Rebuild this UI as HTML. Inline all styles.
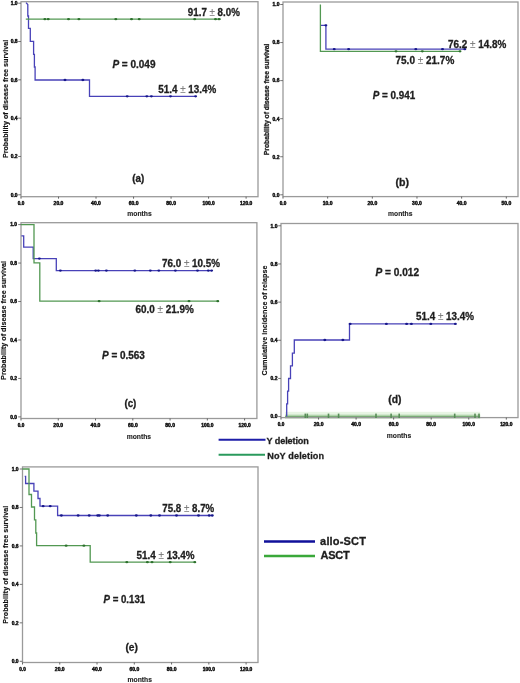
<!DOCTYPE html>
<html><head><meta charset="utf-8"><title>Survival curves</title>
<style>
html,body{margin:0;padding:0;background:#fff;}
body{width:520px;height:683px;overflow:hidden;font-family:"Liberation Sans", sans-serif;}
svg{display:block;will-change:transform;filter:blur(0.3px);}
</style></head><body>
<svg width="520" height="683" viewBox="0 0 520 683">
<rect width="520" height="683" fill="#fff"/>
<g font-family='"Liberation Sans", sans-serif'>
<rect x="21.00" y="1.70" width="237.00" height="195.00" fill="none" stroke="#9a9a9a" stroke-width="1.3"/>
<line x1="18.20" y1="194.80" x2="21.00" y2="194.80" stroke="#666" stroke-width="0.9"/>
<text x="17.60" y="196.65" font-size="5.2" font-weight="bold" text-anchor="end" textLength="6.9" lengthAdjust="spacingAndGlyphs" fill="#1e1e1e" stroke="#111" stroke-width="0.45" style="">0.0</text>
<line x1="18.20" y1="156.48" x2="21.00" y2="156.48" stroke="#666" stroke-width="0.9"/>
<text x="17.60" y="158.33" font-size="5.2" font-weight="bold" text-anchor="end" textLength="6.9" lengthAdjust="spacingAndGlyphs" fill="#1e1e1e" stroke="#111" stroke-width="0.45" style="">0.2</text>
<line x1="18.20" y1="118.16" x2="21.00" y2="118.16" stroke="#666" stroke-width="0.9"/>
<text x="17.60" y="120.01" font-size="5.2" font-weight="bold" text-anchor="end" textLength="6.9" lengthAdjust="spacingAndGlyphs" fill="#1e1e1e" stroke="#111" stroke-width="0.45" style="">0.4</text>
<line x1="18.20" y1="79.84" x2="21.00" y2="79.84" stroke="#666" stroke-width="0.9"/>
<text x="17.60" y="81.69" font-size="5.2" font-weight="bold" text-anchor="end" textLength="6.9" lengthAdjust="spacingAndGlyphs" fill="#1e1e1e" stroke="#111" stroke-width="0.45" style="">0.6</text>
<line x1="18.20" y1="41.52" x2="21.00" y2="41.52" stroke="#666" stroke-width="0.9"/>
<text x="17.60" y="43.37" font-size="5.2" font-weight="bold" text-anchor="end" textLength="6.9" lengthAdjust="spacingAndGlyphs" fill="#1e1e1e" stroke="#111" stroke-width="0.45" style="">0.8</text>
<line x1="18.20" y1="3.20" x2="21.00" y2="3.20" stroke="#666" stroke-width="0.9"/>
<text x="17.60" y="5.05" font-size="5.2" font-weight="bold" text-anchor="end" textLength="6.9" lengthAdjust="spacingAndGlyphs" fill="#1e1e1e" stroke="#111" stroke-width="0.45" style="">1.0</text>
<line x1="21.00" y1="196.70" x2="21.00" y2="198.70" stroke="#555" stroke-width="0.9"/>
<text x="21.00" y="205.00" font-size="5" font-weight="bold" text-anchor="middle" textLength="6.5" lengthAdjust="spacingAndGlyphs" fill="#1e1e1e" stroke="#111" stroke-width="0.45" style="">0.0</text>
<line x1="58.52" y1="196.70" x2="58.52" y2="198.70" stroke="#555" stroke-width="0.9"/>
<text x="58.52" y="205.00" font-size="5" font-weight="bold" text-anchor="middle" textLength="9.8" lengthAdjust="spacingAndGlyphs" fill="#1e1e1e" stroke="#111" stroke-width="0.45" style="">20.0</text>
<line x1="96.03" y1="196.70" x2="96.03" y2="198.70" stroke="#555" stroke-width="0.9"/>
<text x="96.03" y="205.00" font-size="5" font-weight="bold" text-anchor="middle" textLength="9.8" lengthAdjust="spacingAndGlyphs" fill="#1e1e1e" stroke="#111" stroke-width="0.45" style="">40.0</text>
<line x1="133.55" y1="196.70" x2="133.55" y2="198.70" stroke="#555" stroke-width="0.9"/>
<text x="133.55" y="205.00" font-size="5" font-weight="bold" text-anchor="middle" textLength="9.8" lengthAdjust="spacingAndGlyphs" fill="#1e1e1e" stroke="#111" stroke-width="0.45" style="">60.0</text>
<line x1="171.07" y1="196.70" x2="171.07" y2="198.70" stroke="#555" stroke-width="0.9"/>
<text x="171.07" y="205.00" font-size="5" font-weight="bold" text-anchor="middle" textLength="9.8" lengthAdjust="spacingAndGlyphs" fill="#1e1e1e" stroke="#111" stroke-width="0.45" style="">80.0</text>
<line x1="208.58" y1="196.70" x2="208.58" y2="198.70" stroke="#555" stroke-width="0.9"/>
<text x="208.58" y="205.00" font-size="5" font-weight="bold" text-anchor="middle" textLength="12.3" lengthAdjust="spacingAndGlyphs" fill="#1e1e1e" stroke="#111" stroke-width="0.45" style="">100.0</text>
<line x1="246.10" y1="196.70" x2="246.10" y2="198.70" stroke="#555" stroke-width="0.9"/>
<text x="246.10" y="205.00" font-size="5" font-weight="bold" text-anchor="middle" textLength="12.3" lengthAdjust="spacingAndGlyphs" fill="#1e1e1e" stroke="#111" stroke-width="0.45" style="">120.0</text>
<path d="M26.00,2.60 L27.80,4.60 L27.80,4.60 L27.80,16.00 L28.50,16.00 L28.50,28.30 L30.30,28.30 L30.30,41.40 L33.60,41.40 L33.60,54.30 L34.40,54.30 L34.40,67.00 L35.10,67.00 L35.10,80.00 L89.50,80.00 L89.50,96.30 L195.60,96.30" fill="none" stroke="#4842b8" stroke-width="1.3" stroke-linejoin="miter"/>
<ellipse cx="65.00" cy="80.00" rx="1.5" ry="1.15" fill="#16168a"/>
<ellipse cx="82.90" cy="80.00" rx="1.5" ry="1.15" fill="#16168a"/>
<ellipse cx="127.20" cy="96.30" rx="1.5" ry="1.15" fill="#16168a"/>
<ellipse cx="146.80" cy="96.30" rx="1.5" ry="1.15" fill="#16168a"/>
<ellipse cx="151.40" cy="96.30" rx="1.5" ry="1.15" fill="#16168a"/>
<ellipse cx="170.50" cy="96.30" rx="1.5" ry="1.15" fill="#16168a"/>
<ellipse cx="195.60" cy="96.30" rx="1.5" ry="1.15" fill="#16168a"/>
<path d="M25.80,19.20 L220.80,19.20" fill="none" stroke="#529852" stroke-width="1.3" stroke-linejoin="miter"/>
<ellipse cx="44.90" cy="19.20" rx="1.5" ry="1.15" fill="#2c702c"/>
<ellipse cx="48.20" cy="19.20" rx="1.5" ry="1.15" fill="#2c702c"/>
<ellipse cx="68.50" cy="19.20" rx="1.5" ry="1.15" fill="#2c702c"/>
<ellipse cx="78.90" cy="19.20" rx="1.5" ry="1.15" fill="#2c702c"/>
<ellipse cx="115.80" cy="19.20" rx="1.5" ry="1.15" fill="#2c702c"/>
<ellipse cx="131.50" cy="19.20" rx="1.5" ry="1.15" fill="#2c702c"/>
<ellipse cx="139.20" cy="19.20" rx="1.5" ry="1.15" fill="#2c702c"/>
<ellipse cx="194.70" cy="19.20" rx="1.5" ry="1.15" fill="#2c702c"/>
<ellipse cx="215.50" cy="19.20" rx="1.5" ry="1.15" fill="#2c702c"/>
<ellipse cx="219.00" cy="19.20" rx="1.5" ry="1.15" fill="#2c702c"/>
<text x="187.80" y="16.20" font-size="10" font-weight="bold" text-anchor="start" textLength="52.1" lengthAdjust="spacingAndGlyphs" fill="#1e1e1e"  stroke="#1e1e1e" stroke-width="0.3" style="">91.7 <tspan font-weight="normal" fill="#7a7a7a" stroke="#8a8a8a" stroke-width="0.15">±</tspan> 8.0%</text>
<text x="158.30" y="92.80" font-size="10" font-weight="bold" text-anchor="start" textLength="57.9" lengthAdjust="spacingAndGlyphs" fill="#1e1e1e"  stroke="#1e1e1e" stroke-width="0.3" style="">51.4 <tspan font-weight="normal" fill="#7a7a7a" stroke="#8a8a8a" stroke-width="0.15">±</tspan> 13.4%</text>
<text x="112.40" y="68.30" font-size="10" font-weight="bold" text-anchor="start" textLength="43.1" lengthAdjust="spacingAndGlyphs" fill="#1e1e1e"  stroke="#1e1e1e" stroke-width="0.3" style=""><tspan font-style="italic">P</tspan> = 0.049</text>
<text x="132.30" y="182.00" font-size="10" font-weight="bold" text-anchor="start" textLength="12.0" lengthAdjust="spacingAndGlyphs" fill="#1e1e1e"  stroke="#1e1e1e" stroke-width="0.3" style="">(a)</text>
<text x="127.30" y="216.40" font-size="6.8" font-weight="bold" text-anchor="start" textLength="24.4" lengthAdjust="spacingAndGlyphs" fill="#1e1e1e" stroke="#222" stroke-width="0.12" style="">months</text>
<text x="0.00" y="0.00" font-size="7.2" font-weight="bold" text-anchor="start" textLength="118.3" lengthAdjust="spacingAndGlyphs" fill="#111" transform="translate(7.7,158.1) rotate(-90)" stroke="#111" stroke-width="0.15" style="">Probability of disease free survival</text>
<rect x="283.00" y="2.00" width="235.00" height="194.60" fill="none" stroke="#9a9a9a" stroke-width="1.3"/>
<line x1="280.20" y1="194.80" x2="283.00" y2="194.80" stroke="#666" stroke-width="0.9"/>
<text x="279.40" y="196.65" font-size="5.2" font-weight="bold" text-anchor="end" textLength="6.9" lengthAdjust="spacingAndGlyphs" fill="#1e1e1e" stroke="#111" stroke-width="0.45" style="">0.0</text>
<line x1="280.20" y1="156.74" x2="283.00" y2="156.74" stroke="#666" stroke-width="0.9"/>
<text x="279.40" y="158.59" font-size="5.2" font-weight="bold" text-anchor="end" textLength="6.9" lengthAdjust="spacingAndGlyphs" fill="#1e1e1e" stroke="#111" stroke-width="0.45" style="">0.2</text>
<line x1="280.20" y1="118.68" x2="283.00" y2="118.68" stroke="#666" stroke-width="0.9"/>
<text x="279.40" y="120.53" font-size="5.2" font-weight="bold" text-anchor="end" textLength="6.9" lengthAdjust="spacingAndGlyphs" fill="#1e1e1e" stroke="#111" stroke-width="0.45" style="">0.4</text>
<line x1="280.20" y1="80.62" x2="283.00" y2="80.62" stroke="#666" stroke-width="0.9"/>
<text x="279.40" y="82.47" font-size="5.2" font-weight="bold" text-anchor="end" textLength="6.9" lengthAdjust="spacingAndGlyphs" fill="#1e1e1e" stroke="#111" stroke-width="0.45" style="">0.6</text>
<line x1="280.20" y1="42.56" x2="283.00" y2="42.56" stroke="#666" stroke-width="0.9"/>
<text x="279.40" y="44.41" font-size="5.2" font-weight="bold" text-anchor="end" textLength="6.9" lengthAdjust="spacingAndGlyphs" fill="#1e1e1e" stroke="#111" stroke-width="0.45" style="">0.8</text>
<line x1="280.20" y1="4.50" x2="283.00" y2="4.50" stroke="#666" stroke-width="0.9"/>
<text x="279.40" y="6.35" font-size="5.2" font-weight="bold" text-anchor="end" textLength="6.9" lengthAdjust="spacingAndGlyphs" fill="#1e1e1e" stroke="#111" stroke-width="0.45" style="">1.0</text>
<line x1="283.00" y1="196.60" x2="283.00" y2="198.60" stroke="#555" stroke-width="0.9"/>
<text x="283.00" y="204.90" font-size="5" font-weight="bold" text-anchor="middle" textLength="6.5" lengthAdjust="spacingAndGlyphs" fill="#1e1e1e" stroke="#111" stroke-width="0.45" style="">0.0</text>
<line x1="327.66" y1="196.60" x2="327.66" y2="198.60" stroke="#555" stroke-width="0.9"/>
<text x="327.66" y="204.90" font-size="5" font-weight="bold" text-anchor="middle" textLength="9.8" lengthAdjust="spacingAndGlyphs" fill="#1e1e1e" stroke="#111" stroke-width="0.45" style="">10.0</text>
<line x1="372.32" y1="196.60" x2="372.32" y2="198.60" stroke="#555" stroke-width="0.9"/>
<text x="372.32" y="204.90" font-size="5" font-weight="bold" text-anchor="middle" textLength="9.8" lengthAdjust="spacingAndGlyphs" fill="#1e1e1e" stroke="#111" stroke-width="0.45" style="">20.0</text>
<line x1="416.98" y1="196.60" x2="416.98" y2="198.60" stroke="#555" stroke-width="0.9"/>
<text x="416.98" y="204.90" font-size="5" font-weight="bold" text-anchor="middle" textLength="9.8" lengthAdjust="spacingAndGlyphs" fill="#1e1e1e" stroke="#111" stroke-width="0.45" style="">30.0</text>
<line x1="461.64" y1="196.60" x2="461.64" y2="198.60" stroke="#555" stroke-width="0.9"/>
<text x="461.64" y="204.90" font-size="5" font-weight="bold" text-anchor="middle" textLength="9.8" lengthAdjust="spacingAndGlyphs" fill="#1e1e1e" stroke="#111" stroke-width="0.45" style="">40.0</text>
<line x1="506.30" y1="196.60" x2="506.30" y2="198.60" stroke="#555" stroke-width="0.9"/>
<text x="506.30" y="204.90" font-size="5" font-weight="bold" text-anchor="middle" textLength="9.8" lengthAdjust="spacingAndGlyphs" fill="#1e1e1e" stroke="#111" stroke-width="0.45" style="">50.0</text>
<path d="M320.40,25.30 L325.90,25.30 L325.90,49.20 L465.00,49.20" fill="none" stroke="#4842b8" stroke-width="1.3" stroke-linejoin="miter"/>
<ellipse cx="325.90" cy="25.30" rx="1.5" ry="1.15" fill="#16168a"/>
<ellipse cx="334.20" cy="49.20" rx="1.5" ry="1.15" fill="#16168a"/>
<ellipse cx="348.60" cy="49.20" rx="1.5" ry="1.15" fill="#16168a"/>
<ellipse cx="415.80" cy="49.20" rx="1.5" ry="1.15" fill="#16168a"/>
<ellipse cx="442.50" cy="49.20" rx="1.5" ry="1.15" fill="#16168a"/>
<ellipse cx="464.80" cy="49.20" rx="1.5" ry="1.15" fill="#16168a"/>
<path d="M320.40,4.50 L320.40,51.30 L460.80,51.30" fill="none" stroke="#529852" stroke-width="1.3" stroke-linejoin="miter"/>
<ellipse cx="396.00" cy="51.30" rx="1.5" ry="1.15" fill="#2c702c"/>
<ellipse cx="422.30" cy="51.30" rx="1.5" ry="1.15" fill="#2c702c"/>
<ellipse cx="460.00" cy="51.30" rx="1.5" ry="1.15" fill="#2c702c"/>
<text x="448.00" y="48.00" font-size="10" font-weight="bold" text-anchor="start" textLength="58.3" lengthAdjust="spacingAndGlyphs" fill="#1e1e1e"  stroke="#1e1e1e" stroke-width="0.3" style="">76.2 <tspan font-weight="normal" fill="#7a7a7a" stroke="#8a8a8a" stroke-width="0.15">±</tspan> 14.8%</text>
<text x="395.50" y="63.80" font-size="10" font-weight="bold" text-anchor="start" textLength="58.8" lengthAdjust="spacingAndGlyphs" fill="#1e1e1e"  stroke="#1e1e1e" stroke-width="0.3" style="">75.0 <tspan font-weight="normal" fill="#7a7a7a" stroke="#8a8a8a" stroke-width="0.15">±</tspan> 21.7%</text>
<text x="372.80" y="98.80" font-size="10" font-weight="bold" text-anchor="start" textLength="42.4" lengthAdjust="spacingAndGlyphs" fill="#1e1e1e"  stroke="#1e1e1e" stroke-width="0.3" style=""><tspan font-style="italic">P</tspan> = 0.941</text>
<text x="395.50" y="185.60" font-size="10" font-weight="bold" text-anchor="start" textLength="13.5" lengthAdjust="spacingAndGlyphs" fill="#1e1e1e"  stroke="#1e1e1e" stroke-width="0.3" style="">(b)</text>
<text x="388.00" y="216.20" font-size="6.8" font-weight="bold" text-anchor="start" textLength="24.4" lengthAdjust="spacingAndGlyphs" fill="#1e1e1e" stroke="#222" stroke-width="0.12" style="">months</text>
<text x="0.00" y="0.00" font-size="6.8" font-weight="bold" text-anchor="start" textLength="111.5" lengthAdjust="spacingAndGlyphs" fill="#1e1e1e" transform="translate(269.3,155.2) rotate(-90)" stroke="#1e1e1e" stroke-width="0.3" style="">Probability of disease free survival</text>
<rect x="21.00" y="222.70" width="235.90" height="195.80" fill="none" stroke="#9a9a9a" stroke-width="1.3"/>
<line x1="18.20" y1="416.90" x2="21.00" y2="416.90" stroke="#666" stroke-width="0.9"/>
<text x="17.10" y="418.75" font-size="5.2" font-weight="bold" text-anchor="end" textLength="6.9" lengthAdjust="spacingAndGlyphs" fill="#1e1e1e" stroke="#111" stroke-width="0.45" style="">0.0</text>
<line x1="18.20" y1="378.44" x2="21.00" y2="378.44" stroke="#666" stroke-width="0.9"/>
<text x="17.10" y="380.29" font-size="5.2" font-weight="bold" text-anchor="end" textLength="6.9" lengthAdjust="spacingAndGlyphs" fill="#1e1e1e" stroke="#111" stroke-width="0.45" style="">0.2</text>
<line x1="18.20" y1="339.98" x2="21.00" y2="339.98" stroke="#666" stroke-width="0.9"/>
<text x="17.10" y="341.83" font-size="5.2" font-weight="bold" text-anchor="end" textLength="6.9" lengthAdjust="spacingAndGlyphs" fill="#1e1e1e" stroke="#111" stroke-width="0.45" style="">0.4</text>
<line x1="18.20" y1="301.52" x2="21.00" y2="301.52" stroke="#666" stroke-width="0.9"/>
<text x="17.10" y="303.37" font-size="5.2" font-weight="bold" text-anchor="end" textLength="6.9" lengthAdjust="spacingAndGlyphs" fill="#1e1e1e" stroke="#111" stroke-width="0.45" style="">0.6</text>
<line x1="18.20" y1="263.06" x2="21.00" y2="263.06" stroke="#666" stroke-width="0.9"/>
<text x="17.10" y="264.91" font-size="5.2" font-weight="bold" text-anchor="end" textLength="6.9" lengthAdjust="spacingAndGlyphs" fill="#1e1e1e" stroke="#111" stroke-width="0.45" style="">0.8</text>
<line x1="18.20" y1="224.60" x2="21.00" y2="224.60" stroke="#666" stroke-width="0.9"/>
<text x="17.10" y="226.45" font-size="5.2" font-weight="bold" text-anchor="end" textLength="6.9" lengthAdjust="spacingAndGlyphs" fill="#1e1e1e" stroke="#111" stroke-width="0.45" style="">1.0</text>
<line x1="21.00" y1="418.50" x2="21.00" y2="420.50" stroke="#555" stroke-width="0.9"/>
<text x="21.00" y="426.80" font-size="5" font-weight="bold" text-anchor="middle" textLength="6.5" lengthAdjust="spacingAndGlyphs" fill="#1e1e1e" stroke="#111" stroke-width="0.45" style="">0.0</text>
<line x1="58.27" y1="418.50" x2="58.27" y2="420.50" stroke="#555" stroke-width="0.9"/>
<text x="58.27" y="426.80" font-size="5" font-weight="bold" text-anchor="middle" textLength="9.8" lengthAdjust="spacingAndGlyphs" fill="#1e1e1e" stroke="#111" stroke-width="0.45" style="">20.0</text>
<line x1="95.53" y1="418.50" x2="95.53" y2="420.50" stroke="#555" stroke-width="0.9"/>
<text x="95.53" y="426.80" font-size="5" font-weight="bold" text-anchor="middle" textLength="9.8" lengthAdjust="spacingAndGlyphs" fill="#1e1e1e" stroke="#111" stroke-width="0.45" style="">40.0</text>
<line x1="132.80" y1="418.50" x2="132.80" y2="420.50" stroke="#555" stroke-width="0.9"/>
<text x="132.80" y="426.80" font-size="5" font-weight="bold" text-anchor="middle" textLength="9.8" lengthAdjust="spacingAndGlyphs" fill="#1e1e1e" stroke="#111" stroke-width="0.45" style="">60.0</text>
<line x1="170.07" y1="418.50" x2="170.07" y2="420.50" stroke="#555" stroke-width="0.9"/>
<text x="170.07" y="426.80" font-size="5" font-weight="bold" text-anchor="middle" textLength="9.8" lengthAdjust="spacingAndGlyphs" fill="#1e1e1e" stroke="#111" stroke-width="0.45" style="">80.0</text>
<line x1="207.33" y1="418.50" x2="207.33" y2="420.50" stroke="#555" stroke-width="0.9"/>
<text x="207.33" y="426.80" font-size="5" font-weight="bold" text-anchor="middle" textLength="12.3" lengthAdjust="spacingAndGlyphs" fill="#1e1e1e" stroke="#111" stroke-width="0.45" style="">100.0</text>
<line x1="244.60" y1="418.50" x2="244.60" y2="420.50" stroke="#555" stroke-width="0.9"/>
<text x="244.60" y="426.80" font-size="5" font-weight="bold" text-anchor="middle" textLength="12.3" lengthAdjust="spacingAndGlyphs" fill="#1e1e1e" stroke="#111" stroke-width="0.45" style="">120.0</text>
<path d="M21.40,235.80 L23.70,235.80 L23.70,247.20 L33.20,247.20 L33.20,258.60 L56.30,258.60 L56.30,270.60 L212.30,270.60" fill="none" stroke="#4842b8" stroke-width="1.3" stroke-linejoin="miter"/>
<ellipse cx="39.40" cy="258.60" rx="1.5" ry="1.15" fill="#16168a"/>
<ellipse cx="60.40" cy="270.60" rx="1.5" ry="1.15" fill="#16168a"/>
<ellipse cx="95.70" cy="270.60" rx="1.5" ry="1.15" fill="#16168a"/>
<ellipse cx="98.40" cy="270.60" rx="1.5" ry="1.15" fill="#16168a"/>
<ellipse cx="106.40" cy="270.60" rx="1.5" ry="1.15" fill="#16168a"/>
<ellipse cx="134.80" cy="270.60" rx="1.5" ry="1.15" fill="#16168a"/>
<ellipse cx="150.30" cy="270.60" rx="1.5" ry="1.15" fill="#16168a"/>
<ellipse cx="158.80" cy="270.60" rx="1.5" ry="1.15" fill="#16168a"/>
<ellipse cx="175.40" cy="270.60" rx="1.5" ry="1.15" fill="#16168a"/>
<ellipse cx="197.50" cy="270.60" rx="1.5" ry="1.15" fill="#16168a"/>
<ellipse cx="208.30" cy="270.60" rx="1.5" ry="1.15" fill="#16168a"/>
<ellipse cx="211.60" cy="270.60" rx="1.5" ry="1.15" fill="#16168a"/>
<path d="M21.00,224.60 L34.00,224.60 L34.00,262.80 L39.80,262.80 L39.80,301.20 L218.30,301.20" fill="none" stroke="#529852" stroke-width="1.3" stroke-linejoin="miter"/>
<ellipse cx="99.10" cy="301.20" rx="1.5" ry="1.15" fill="#2c702c"/>
<ellipse cx="189.00" cy="301.20" rx="1.5" ry="1.15" fill="#2c702c"/>
<ellipse cx="217.80" cy="301.20" rx="1.5" ry="1.15" fill="#2c702c"/>
<text x="162.00" y="267.20" font-size="10" font-weight="bold" text-anchor="start" textLength="58.0" lengthAdjust="spacingAndGlyphs" fill="#1e1e1e"  stroke="#1e1e1e" stroke-width="0.3" style="">76.0 <tspan font-weight="normal" fill="#7a7a7a" stroke="#8a8a8a" stroke-width="0.15">±</tspan> 10.5%</text>
<text x="135.40" y="313.30" font-size="10" font-weight="bold" text-anchor="start" textLength="58.4" lengthAdjust="spacingAndGlyphs" fill="#1e1e1e"  stroke="#1e1e1e" stroke-width="0.3" style="">60.0 <tspan font-weight="normal" fill="#7a7a7a" stroke="#8a8a8a" stroke-width="0.15">±</tspan> 21.9%</text>
<text x="102.00" y="358.50" font-size="10" font-weight="bold" text-anchor="start" textLength="42.9" lengthAdjust="spacingAndGlyphs" fill="#1e1e1e"  stroke="#1e1e1e" stroke-width="0.3" style=""><tspan font-style="italic">P</tspan> = 0.563</text>
<text x="124.40" y="407.00" font-size="10" font-weight="bold" text-anchor="start" textLength="12.0" lengthAdjust="spacingAndGlyphs" fill="#1e1e1e"  stroke="#1e1e1e" stroke-width="0.3" style="">(c)</text>
<text x="126.70" y="438.90" font-size="6.8" font-weight="bold" text-anchor="start" textLength="24.4" lengthAdjust="spacingAndGlyphs" fill="#1e1e1e" stroke="#222" stroke-width="0.12" style="">months</text>
<text x="0.00" y="0.00" font-size="7.2" font-weight="bold" text-anchor="start" textLength="118.8" lengthAdjust="spacingAndGlyphs" fill="#111" transform="translate(6.3,379.9) rotate(-90)" stroke="#111" stroke-width="0.15" style="">Probability of disease free survival</text>
<rect x="285" y="411.8" width="195.2" height="3.0" fill="#e8f5e4"/>
<rect x="285" y="414.6" width="195.2" height="3.9" fill="#b0d4aa"/>
<rect x="281.00" y="223.50" width="237.00" height="194.10" fill="none" stroke="#9a9a9a" stroke-width="1.3"/>
<line x1="278.20" y1="416.60" x2="281.00" y2="416.60" stroke="#666" stroke-width="0.9"/>
<text x="277.40" y="418.45" font-size="5.2" font-weight="bold" text-anchor="end" textLength="6.9" lengthAdjust="spacingAndGlyphs" fill="#1e1e1e" stroke="#111" stroke-width="0.45" style="">0.0</text>
<line x1="278.20" y1="378.44" x2="281.00" y2="378.44" stroke="#666" stroke-width="0.9"/>
<text x="277.40" y="380.29" font-size="5.2" font-weight="bold" text-anchor="end" textLength="6.9" lengthAdjust="spacingAndGlyphs" fill="#1e1e1e" stroke="#111" stroke-width="0.45" style="">0.2</text>
<line x1="278.20" y1="340.28" x2="281.00" y2="340.28" stroke="#666" stroke-width="0.9"/>
<text x="277.40" y="342.13" font-size="5.2" font-weight="bold" text-anchor="end" textLength="6.9" lengthAdjust="spacingAndGlyphs" fill="#1e1e1e" stroke="#111" stroke-width="0.45" style="">0.4</text>
<line x1="278.20" y1="302.12" x2="281.00" y2="302.12" stroke="#666" stroke-width="0.9"/>
<text x="277.40" y="303.97" font-size="5.2" font-weight="bold" text-anchor="end" textLength="6.9" lengthAdjust="spacingAndGlyphs" fill="#1e1e1e" stroke="#111" stroke-width="0.45" style="">0.6</text>
<line x1="278.20" y1="263.96" x2="281.00" y2="263.96" stroke="#666" stroke-width="0.9"/>
<text x="277.40" y="265.81" font-size="5.2" font-weight="bold" text-anchor="end" textLength="6.9" lengthAdjust="spacingAndGlyphs" fill="#1e1e1e" stroke="#111" stroke-width="0.45" style="">0.8</text>
<line x1="278.20" y1="225.80" x2="281.00" y2="225.80" stroke="#666" stroke-width="0.9"/>
<text x="277.40" y="227.65" font-size="5.2" font-weight="bold" text-anchor="end" textLength="6.9" lengthAdjust="spacingAndGlyphs" fill="#1e1e1e" stroke="#111" stroke-width="0.45" style="">1.0</text>
<line x1="281.00" y1="417.60" x2="281.00" y2="419.60" stroke="#555" stroke-width="0.9"/>
<text x="281.00" y="425.90" font-size="5" font-weight="bold" text-anchor="middle" textLength="6.5" lengthAdjust="spacingAndGlyphs" fill="#1e1e1e" stroke="#111" stroke-width="0.45" style="">0.0</text>
<line x1="318.55" y1="417.60" x2="318.55" y2="419.60" stroke="#555" stroke-width="0.9"/>
<text x="318.55" y="425.90" font-size="5" font-weight="bold" text-anchor="middle" textLength="9.8" lengthAdjust="spacingAndGlyphs" fill="#1e1e1e" stroke="#111" stroke-width="0.45" style="">20.0</text>
<line x1="356.10" y1="417.60" x2="356.10" y2="419.60" stroke="#555" stroke-width="0.9"/>
<text x="356.10" y="425.90" font-size="5" font-weight="bold" text-anchor="middle" textLength="9.8" lengthAdjust="spacingAndGlyphs" fill="#1e1e1e" stroke="#111" stroke-width="0.45" style="">40.0</text>
<line x1="393.65" y1="417.60" x2="393.65" y2="419.60" stroke="#555" stroke-width="0.9"/>
<text x="393.65" y="425.90" font-size="5" font-weight="bold" text-anchor="middle" textLength="9.8" lengthAdjust="spacingAndGlyphs" fill="#1e1e1e" stroke="#111" stroke-width="0.45" style="">60.0</text>
<line x1="431.20" y1="417.60" x2="431.20" y2="419.60" stroke="#555" stroke-width="0.9"/>
<text x="431.20" y="425.90" font-size="5" font-weight="bold" text-anchor="middle" textLength="9.8" lengthAdjust="spacingAndGlyphs" fill="#1e1e1e" stroke="#111" stroke-width="0.45" style="">80.0</text>
<line x1="468.75" y1="417.60" x2="468.75" y2="419.60" stroke="#555" stroke-width="0.9"/>
<text x="468.75" y="425.90" font-size="5" font-weight="bold" text-anchor="middle" textLength="12.3" lengthAdjust="spacingAndGlyphs" fill="#1e1e1e" stroke="#111" stroke-width="0.45" style="">100.0</text>
<line x1="506.30" y1="417.60" x2="506.30" y2="419.60" stroke="#555" stroke-width="0.9"/>
<text x="506.30" y="425.90" font-size="5" font-weight="bold" text-anchor="middle" textLength="12.3" lengthAdjust="spacingAndGlyphs" fill="#1e1e1e" stroke="#111" stroke-width="0.45" style="">120.0</text>
<line x1="285" y1="416.5" x2="480" y2="416.5" stroke="#7aaa78" stroke-width="1.0"/>
<rect x="304.50" y="413.6" width="1.6" height="4.4" fill="#578c57"/>
<rect x="306.50" y="413.6" width="1.6" height="4.4" fill="#578c57"/>
<rect x="327.70" y="413.6" width="1.6" height="4.4" fill="#578c57"/>
<rect x="337.80" y="413.6" width="1.6" height="4.4" fill="#578c57"/>
<rect x="375.20" y="413.6" width="1.6" height="4.4" fill="#578c57"/>
<rect x="390.30" y="413.6" width="1.6" height="4.4" fill="#578c57"/>
<rect x="398.40" y="413.6" width="1.6" height="4.4" fill="#578c57"/>
<rect x="453.90" y="413.6" width="1.6" height="4.4" fill="#578c57"/>
<rect x="474.20" y="413.6" width="1.6" height="4.4" fill="#578c57"/>
<rect x="478.20" y="413.6" width="1.6" height="4.4" fill="#578c57"/>
<path d="M286.70,416.60 L286.70,403.90 L287.60,403.90 L287.60,391.20 L288.60,391.20 L288.60,378.50 L290.50,378.50 L290.50,365.80 L292.40,365.80 L292.40,353.10 L294.30,353.10 L294.30,340.00 L349.50,340.00 L349.50,323.90 L455.50,323.90" fill="none" stroke="#4842b8" stroke-width="1.3" stroke-linejoin="miter"/>
<ellipse cx="324.80" cy="340.00" rx="1.5" ry="1.15" fill="#16168a"/>
<ellipse cx="342.90" cy="340.00" rx="1.5" ry="1.15" fill="#16168a"/>
<ellipse cx="350.10" cy="323.90" rx="1.5" ry="1.15" fill="#16168a"/>
<ellipse cx="386.40" cy="323.90" rx="1.5" ry="1.15" fill="#16168a"/>
<ellipse cx="406.60" cy="323.90" rx="1.5" ry="1.15" fill="#16168a"/>
<ellipse cx="411.40" cy="323.90" rx="1.5" ry="1.15" fill="#16168a"/>
<ellipse cx="430.80" cy="323.90" rx="1.5" ry="1.15" fill="#16168a"/>
<ellipse cx="455.40" cy="323.90" rx="1.5" ry="1.15" fill="#16168a"/>
<text x="416.00" y="319.90" font-size="10" font-weight="bold" text-anchor="start" textLength="57.9" lengthAdjust="spacingAndGlyphs" fill="#1e1e1e"  stroke="#1e1e1e" stroke-width="0.3" style="">51.4 <tspan font-weight="normal" fill="#7a7a7a" stroke="#8a8a8a" stroke-width="0.15">±</tspan> 13.4%</text>
<text x="375.50" y="275.90" font-size="10" font-weight="bold" text-anchor="start" textLength="43.5" lengthAdjust="spacingAndGlyphs" fill="#1e1e1e"  stroke="#1e1e1e" stroke-width="0.3" style=""><tspan font-style="italic">P</tspan> = 0.012</text>
<text x="388.30" y="402.50" font-size="10" font-weight="bold" text-anchor="start" textLength="13.2" lengthAdjust="spacingAndGlyphs" fill="#1e1e1e"  stroke="#1e1e1e" stroke-width="0.3" style="">(d)</text>
<text x="386.80" y="437.60" font-size="6.8" font-weight="bold" text-anchor="start" textLength="24.4" lengthAdjust="spacingAndGlyphs" fill="#1e1e1e" stroke="#222" stroke-width="0.12" style="">months</text>
<text x="0.00" y="0.00" font-size="7.2" font-weight="bold" text-anchor="start" textLength="110.0" lengthAdjust="spacingAndGlyphs" fill="#111" transform="translate(267.0,375.5) rotate(-90)" stroke="#111" stroke-width="0.15" style="">Cumulative incidence of relapse</text>
<line x1="218.6" y1="439.7" x2="265.5" y2="439.7" stroke="#1e1ea8" stroke-width="2"/>
<line x1="218.6" y1="454.8" x2="265.0" y2="454.8" stroke="#2a9a5c" stroke-width="2"/>
<text x="266.60" y="443.50" font-size="9.1" font-weight="bold" text-anchor="start" textLength="42.2" lengthAdjust="spacing" fill="#1e1e1e"  stroke="#1e1e1e" stroke-width="0.3" style="">Y deletion</text>
<text x="267.20" y="458.50" font-size="9.1" font-weight="bold" text-anchor="start" textLength="56.9" lengthAdjust="spacing" fill="#1e1e1e"  stroke="#1e1e1e" stroke-width="0.3" style="">NoY deletion</text>
<rect x="22.50" y="466.90" width="235.50" height="195.60" fill="none" stroke="#9a9a9a" stroke-width="1.3"/>
<line x1="19.70" y1="661.30" x2="22.50" y2="661.30" stroke="#666" stroke-width="0.9"/>
<text x="18.60" y="663.15" font-size="5.2" font-weight="bold" text-anchor="end" textLength="6.9" lengthAdjust="spacingAndGlyphs" fill="#1e1e1e" stroke="#111" stroke-width="0.45" style="">0.0</text>
<line x1="19.70" y1="622.84" x2="22.50" y2="622.84" stroke="#666" stroke-width="0.9"/>
<text x="18.60" y="624.69" font-size="5.2" font-weight="bold" text-anchor="end" textLength="6.9" lengthAdjust="spacingAndGlyphs" fill="#1e1e1e" stroke="#111" stroke-width="0.45" style="">0.2</text>
<line x1="19.70" y1="584.38" x2="22.50" y2="584.38" stroke="#666" stroke-width="0.9"/>
<text x="18.60" y="586.23" font-size="5.2" font-weight="bold" text-anchor="end" textLength="6.9" lengthAdjust="spacingAndGlyphs" fill="#1e1e1e" stroke="#111" stroke-width="0.45" style="">0.4</text>
<line x1="19.70" y1="545.92" x2="22.50" y2="545.92" stroke="#666" stroke-width="0.9"/>
<text x="18.60" y="547.77" font-size="5.2" font-weight="bold" text-anchor="end" textLength="6.9" lengthAdjust="spacingAndGlyphs" fill="#1e1e1e" stroke="#111" stroke-width="0.45" style="">0.6</text>
<line x1="19.70" y1="507.46" x2="22.50" y2="507.46" stroke="#666" stroke-width="0.9"/>
<text x="18.60" y="509.31" font-size="5.2" font-weight="bold" text-anchor="end" textLength="6.9" lengthAdjust="spacingAndGlyphs" fill="#1e1e1e" stroke="#111" stroke-width="0.45" style="">0.8</text>
<line x1="19.70" y1="469.00" x2="22.50" y2="469.00" stroke="#666" stroke-width="0.9"/>
<text x="18.60" y="470.85" font-size="5.2" font-weight="bold" text-anchor="end" textLength="6.9" lengthAdjust="spacingAndGlyphs" fill="#1e1e1e" stroke="#111" stroke-width="0.45" style="">1.0</text>
<line x1="22.50" y1="662.50" x2="22.50" y2="664.50" stroke="#555" stroke-width="0.9"/>
<text x="22.50" y="670.80" font-size="5" font-weight="bold" text-anchor="middle" textLength="6.5" lengthAdjust="spacingAndGlyphs" fill="#1e1e1e" stroke="#111" stroke-width="0.45" style="">0.0</text>
<line x1="59.77" y1="662.50" x2="59.77" y2="664.50" stroke="#555" stroke-width="0.9"/>
<text x="59.77" y="670.80" font-size="5" font-weight="bold" text-anchor="middle" textLength="9.8" lengthAdjust="spacingAndGlyphs" fill="#1e1e1e" stroke="#111" stroke-width="0.45" style="">20.0</text>
<line x1="97.03" y1="662.50" x2="97.03" y2="664.50" stroke="#555" stroke-width="0.9"/>
<text x="97.03" y="670.80" font-size="5" font-weight="bold" text-anchor="middle" textLength="9.8" lengthAdjust="spacingAndGlyphs" fill="#1e1e1e" stroke="#111" stroke-width="0.45" style="">40.0</text>
<line x1="134.30" y1="662.50" x2="134.30" y2="664.50" stroke="#555" stroke-width="0.9"/>
<text x="134.30" y="670.80" font-size="5" font-weight="bold" text-anchor="middle" textLength="9.8" lengthAdjust="spacingAndGlyphs" fill="#1e1e1e" stroke="#111" stroke-width="0.45" style="">60.0</text>
<line x1="171.57" y1="662.50" x2="171.57" y2="664.50" stroke="#555" stroke-width="0.9"/>
<text x="171.57" y="670.80" font-size="5" font-weight="bold" text-anchor="middle" textLength="9.8" lengthAdjust="spacingAndGlyphs" fill="#1e1e1e" stroke="#111" stroke-width="0.45" style="">80.0</text>
<line x1="208.83" y1="662.50" x2="208.83" y2="664.50" stroke="#555" stroke-width="0.9"/>
<text x="208.83" y="670.80" font-size="5" font-weight="bold" text-anchor="middle" textLength="12.3" lengthAdjust="spacingAndGlyphs" fill="#1e1e1e" stroke="#111" stroke-width="0.45" style="">100.0</text>
<line x1="246.10" y1="662.50" x2="246.10" y2="664.50" stroke="#555" stroke-width="0.9"/>
<text x="246.10" y="670.80" font-size="5" font-weight="bold" text-anchor="middle" textLength="12.3" lengthAdjust="spacingAndGlyphs" fill="#1e1e1e" stroke="#111" stroke-width="0.45" style="">120.0</text>
<path d="M24.70,476.30 L25.60,476.30 L25.60,483.50 L33.90,483.50 L33.90,491.10 L38.00,491.10 L38.00,498.50 L40.00,498.50 L40.00,506.20 L57.60,506.20 L57.60,515.50 L212.60,515.50" fill="none" stroke="#4842b8" stroke-width="1.3" stroke-linejoin="miter"/>
<ellipse cx="43.10" cy="506.20" rx="1.5" ry="1.15" fill="#16168a"/>
<ellipse cx="50.20" cy="506.20" rx="1.5" ry="1.15" fill="#16168a"/>
<ellipse cx="61.40" cy="515.50" rx="1.5" ry="1.15" fill="#16168a"/>
<ellipse cx="78.10" cy="515.50" rx="1.5" ry="1.15" fill="#16168a"/>
<ellipse cx="89.20" cy="515.50" rx="1.5" ry="1.15" fill="#16168a"/>
<ellipse cx="97.70" cy="515.50" rx="1.5" ry="1.15" fill="#16168a"/>
<ellipse cx="99.30" cy="515.50" rx="1.5" ry="1.15" fill="#16168a"/>
<ellipse cx="107.70" cy="515.50" rx="1.5" ry="1.15" fill="#16168a"/>
<ellipse cx="136.30" cy="515.50" rx="1.5" ry="1.15" fill="#16168a"/>
<ellipse cx="150.80" cy="515.50" rx="1.5" ry="1.15" fill="#16168a"/>
<ellipse cx="159.50" cy="515.50" rx="1.5" ry="1.15" fill="#16168a"/>
<ellipse cx="176.50" cy="515.50" rx="1.5" ry="1.15" fill="#16168a"/>
<ellipse cx="198.50" cy="515.50" rx="1.5" ry="1.15" fill="#16168a"/>
<ellipse cx="209.20" cy="515.50" rx="1.5" ry="1.15" fill="#16168a"/>
<ellipse cx="212.30" cy="515.50" rx="1.5" ry="1.15" fill="#16168a"/>
<path d="M22.50,469.00 L29.00,469.00 L29.00,494.50 L31.50,494.50 L31.50,507.00 L34.50,507.00 L34.50,519.90 L35.80,519.90 L35.80,533.00 L36.60,533.00 L36.60,545.70 L90.20,545.70 L90.20,562.20 L195.20,562.20" fill="none" stroke="#529852" stroke-width="1.3" stroke-linejoin="miter"/>
<ellipse cx="66.10" cy="545.70" rx="1.5" ry="1.15" fill="#2c702c"/>
<ellipse cx="83.90" cy="545.70" rx="1.5" ry="1.15" fill="#2c702c"/>
<ellipse cx="126.80" cy="562.20" rx="1.5" ry="1.15" fill="#2c702c"/>
<ellipse cx="147.40" cy="562.20" rx="1.5" ry="1.15" fill="#2c702c"/>
<ellipse cx="152.00" cy="562.20" rx="1.5" ry="1.15" fill="#2c702c"/>
<ellipse cx="170.20" cy="562.20" rx="1.5" ry="1.15" fill="#2c702c"/>
<ellipse cx="194.80" cy="562.20" rx="1.5" ry="1.15" fill="#2c702c"/>
<text x="162.30" y="512.00" font-size="10" font-weight="bold" text-anchor="start" textLength="52.0" lengthAdjust="spacingAndGlyphs" fill="#1e1e1e"  stroke="#1e1e1e" stroke-width="0.3" style="">75.8 <tspan font-weight="normal" fill="#7a7a7a" stroke="#8a8a8a" stroke-width="0.15">±</tspan> 8.7%</text>
<text x="136.60" y="558.50" font-size="10" font-weight="bold" text-anchor="start" textLength="58.0" lengthAdjust="spacingAndGlyphs" fill="#1e1e1e"  stroke="#1e1e1e" stroke-width="0.3" style="">51.4 <tspan font-weight="normal" fill="#7a7a7a" stroke="#8a8a8a" stroke-width="0.15">±</tspan> 13.4%</text>
<text x="103.50" y="602.90" font-size="10" font-weight="bold" text-anchor="start" textLength="41.7" lengthAdjust="spacingAndGlyphs" fill="#1e1e1e"  stroke="#1e1e1e" stroke-width="0.3" style=""><tspan font-style="italic">P</tspan> = 0.131</text>
<text x="125.40" y="651.00" font-size="10" font-weight="bold" text-anchor="start" textLength="12.5" lengthAdjust="spacingAndGlyphs" fill="#1e1e1e"  stroke="#1e1e1e" stroke-width="0.3" style="">(e)</text>
<text x="127.60" y="682.40" font-size="6.8" font-weight="bold" text-anchor="start" textLength="24.4" lengthAdjust="spacingAndGlyphs" fill="#1e1e1e" stroke="#222" stroke-width="0.12" style="">months</text>
<text x="0.00" y="0.00" font-size="7.2" font-weight="bold" text-anchor="start" textLength="117.9" lengthAdjust="spacingAndGlyphs" fill="#111" transform="translate(7.8,623.7) rotate(-90)" stroke="#111" stroke-width="0.15" style="">Probability of disease free survival</text>
<line x1="264.0" y1="541.5" x2="315.0" y2="541.5" stroke="#10109a" stroke-width="2.4"/>
<line x1="264.0" y1="556.0" x2="315.0" y2="556.0" stroke="#3aa83a" stroke-width="2.4"/>
<text x="320.10" y="545.00" font-size="11" font-weight="bold" text-anchor="start" textLength="45.8" lengthAdjust="spacing" fill="#1e1e1e"  stroke="#1e1e1e" stroke-width="0.3" style="">allo-SCT</text>
<text x="320.40" y="559.30" font-size="11" font-weight="bold" text-anchor="start" textLength="29.3" lengthAdjust="spacing" fill="#1e1e1e"  stroke="#1e1e1e" stroke-width="0.3" style="">ASCT</text>
</g></svg>
</body></html>
